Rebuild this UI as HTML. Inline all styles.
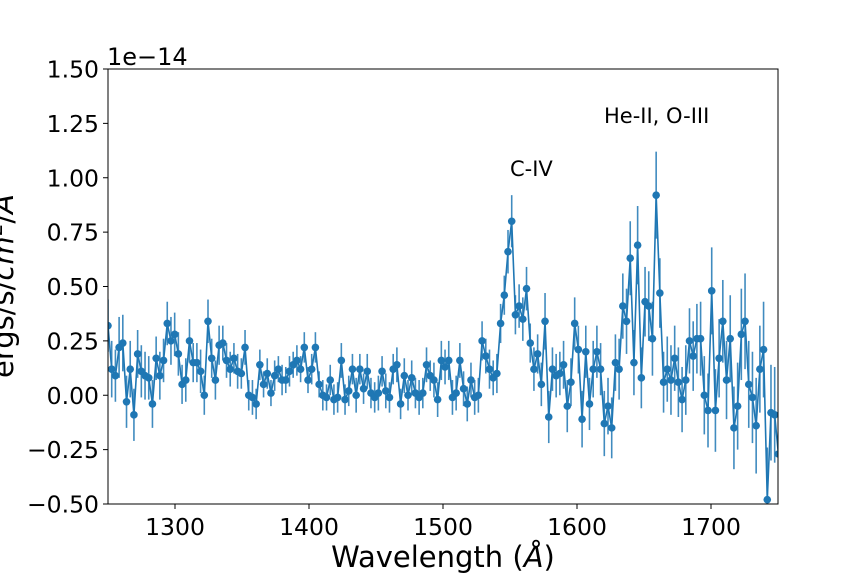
<!DOCTYPE html>
<html><head><meta charset="utf-8"><style>
body{margin:0;background:#fff}
svg text{font-family:"DejaVu Sans","Liberation Sans",sans-serif;fill:#000}
</style></head><body>
<svg id="chart" width="864" height="576" viewBox="0 0 864 576" xmlns="http://www.w3.org/2000/svg">
<defs><clipPath id="clip"><rect x="108" y="69" width="670" height="435"/></clipPath></defs>
<rect x="108" y="69" width="670" height="435" fill="#fff"/>
<g id="series" clip-path="url(#clip)"></g>
<rect x="108" y="69" width="670" height="435" fill="none" stroke="#000" stroke-width="1"/>
<g id="xticks"></g>
<g id="yticks"></g>
<text x="107" y="65" font-size="24">1e−14</text>
<text x="443" y="567" font-size="29" text-anchor="middle">Wavelength (<tspan font-style="italic">Å</tspan>)</text>
<text transform="translate(13,286) rotate(-90)" font-size="29" text-anchor="middle">ergs/s/<tspan font-style="italic">cm</tspan><tspan font-size="20" dy="-11">2</tspan><tspan dy="11">/</tspan><tspan font-style="italic">Å</tspan></text>
<text x="510" y="176" font-size="21">C-IV</text>
<text x="604" y="123" font-size="21">He-II, O-III</text>
</svg>
<script>
const startWave = 1250;
const waveStep = 2.764;
const flux = [0.32,0.12,0.09,0.22,0.24,-0.03,0.12,-0.09,0.19,0.11,0.09,0.08,-0.04,0.17,0.09,0.16,0.33,0.25,0.28,0.19,0.05,0.07,0.25,0.15,0.15,0.11,0.0,0.34,0.17,0.07,
0.23,0.24,0.16,0.12,0.17,0.11,0.10,0.22,0.0,-0.01,-0.04,0.14,0.05,0.10,0.01,0.09,0.12,0.07,0.07,0.11,0.14,0.16,0.12,0.22,0.07,0.12,0.22,0.05,0.0,-0.01,0.07,-0.02,
-0.01,0.16,-0.02,0.02,0.12,0.0,0.12,0.03,0.11,0.01,-0.01,0.01,0.11,0.02,-0.01,0.12,0.14,-0.04,0.09,0.0,0.08,0.01,-0.01,0.01,0.14,0.09,0.07,-0.02,0.16,0.13,0.16,
-0.01,0.01,0.16,0.03,-0.04,0.07,-0.01,0.0,0.25,0.18,0.12,0.08,0.10,0.33,0.46,0.66,0.80,0.37,0.41,0.35,0.49,0.24,0.12,0.19,0.05,0.34,-0.10,0.12,0.09,0.10,0.14,
-0.05,0.06,0.33,0.21,-0.11,0.20,-0.04,0.12,0.20,0.12,-0.13,-0.05,-0.15,0.15,0.12,0.41,0.34,0.63,0.15,0.69,0.08,0.43,0.41,0.26,0.92,0.47,0.06,0.12,0.07,0.17,
0.06,-0.02,0.07,0.25,0.18,0.26,0.26,0.00,-0.07,0.48,-0.07,0.17,0.34,0.07,0.26,-0.15,-0.05,0.28,0.34,0.05,-0.01,-0.14,0.12,0.21,-0.48,-0.08,-0.09,-0.27];
const fluxErr = [0.12,0.13,0.12,0.14,0.13,0.12,0.13,0.12,0.11,0.12,0.11,0.10,0.11,0.10,0.11,0.10,0.10,0.11,0.10,0.10,0.09,0.10,0.10,0.09,0.09,0.10,0.09,0.10,0.09,0.09,
0.09,0.08,0.08,0.08,0.07,0.08,0.07,0.08,0.07,0.08,0.07,0.07,0.06,0.07,0.06,0.07,0.06,0.07,0.06,0.07,0.06,0.07,0.06,0.07,0.06,0.07,0.07,0.06,0.07,0.06,0.07,0.07,
0.07,0.08,0.07,0.07,0.07,0.08,0.07,0.07,0.08,0.07,0.07,0.08,0.07,0.08,0.07,0.07,0.08,0.07,0.08,0.07,0.08,0.07,0.08,0.07,0.08,0.07,0.08,0.08,0.09,0.08,0.09,
0.08,0.08,0.08,0.08,0.08,0.08,0.08,0.08,0.09,0.08,0.09,0.08,0.09,0.09,0.09,0.10,0.12,0.09,0.10,0.10,0.10,0.09,0.10,0.09,0.10,0.13,0.12,0.10,0.10,0.10,0.11,
0.12,0.11,0.12,0.11,0.13,0.12,0.12,0.13,0.12,0.12,0.15,0.13,0.14,0.13,0.14,0.15,0.15,0.17,0.15,0.18,0.14,0.16,0.16,0.17,0.20,0.16,0.14,0.15,0.16,0.15,
0.16,0.15,0.16,0.15,0.16,0.16,0.17,0.18,0.17,0.20,0.19,0.18,0.19,0.18,0.20,0.19,0.20,0.21,0.22,0.20,0.21,0.22,0.20,0.22,0.24,0.22,0.22,0.23];
const xTicks = [1300,1400,1500,1600,1700];
const yTicks = [-0.50,-0.25,0.00,0.25,0.50,0.75,1.00,1.25,1.50];
const yTickLabels = ["−0.50","−0.25","0.00","0.25","0.50","0.75","1.00","1.25","1.50"];

const NS = "http://www.w3.org/2000/svg";
const X0=108,X1=778,Y0=504,Y1=69;
const xScale = w => X0 + (w-1250)/(1750-1250)*(X1-X0);
const yScale = v => Y0 - (v+0.5)/(1.5+0.5)*(Y0-Y1);
function mk(tag, attrs){const e=document.createElementNS(NS,tag);for(const k in attrs)e.setAttribute(k,attrs[k]);return e;}
const color="#1f77b4";
const g=document.getElementById('series');
const eg=mk('g',{stroke:color,'stroke-width':1.6,opacity:0.85});
g.appendChild(eg);
let d="";
flux.forEach((v,i)=>{
  const w=startWave+i*waveStep, x=xScale(w);
  const bar=mk('line',{x1:x,x2:x,y1:yScale(v-fluxErr[i]),y2:yScale(v+fluxErr[i])});
  
  
  eg.appendChild(bar);
  d+=(i?"L":"M")+x.toFixed(2)+","+yScale(v).toFixed(2);
});
const line=mk('path',{d:d,fill:'none',stroke:color,'stroke-width':1.6});


g.appendChild(line);
flux.forEach((v,i)=>{
  const c=mk('circle',{cx:xScale(startWave+i*waveStep),cy:yScale(v),r:3.8,fill:color});
  
  
  g.appendChild(c);
});
const xg=document.getElementById('xticks');
xTicks.forEach(t=>{
  const x=xScale(t);
  const tk=mk('line',{x1:x,x2:x,y1:Y0,y2:Y0+5,stroke:'#000','stroke-width':1});
  
  
  xg.appendChild(tk);
  const tx=mk('text',{x:x,y:Y0+31,'font-size':23.5,'text-anchor':'middle'});
  tx.textContent=t;
  
  
  xg.appendChild(tx);
});
const yg=document.getElementById('yticks');
yTicks.forEach((t,i)=>{
  const y=yScale(t);
  const tk=mk('line',{x1:X0-5,x2:X0,y1:y,y2:y,stroke:'#000','stroke-width':1});
  
  
  yg.appendChild(tk);
  const tx=mk('text',{x:X0-9,y:y+8.5,'font-size':23.5,'text-anchor':'end'});
  tx.textContent=yTickLabels[i];
  
  
  yg.appendChild(tx);
});
</script>
</body></html>
